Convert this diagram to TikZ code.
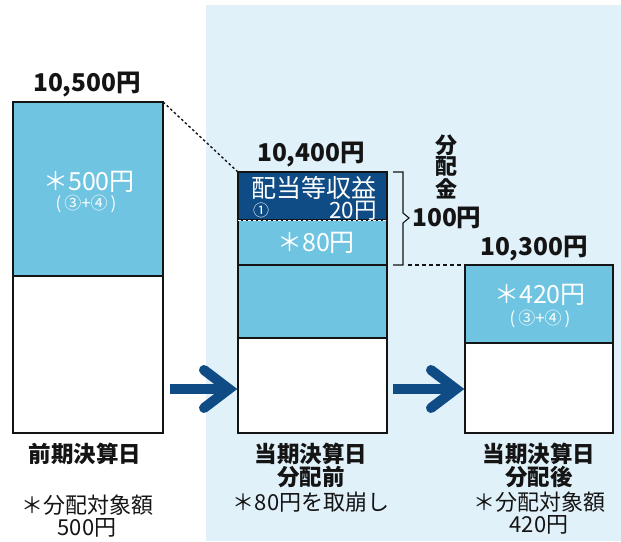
\documentclass[tikz,border=0pt]{standalone}
\usepackage{fontspec}
\usetikzlibrary{calc}
\setmainfont{Noto Sans CJK JP}
\definecolor{bgblue}{HTML}{E1F1F9}
\definecolor{barblue}{HTML}{6EC4E1}
\definecolor{navy}{HTML}{0F4B84}
\definecolor{ink}{HTML}{141414}
\tikzset{
  bar/.style={draw=ink, line width=1.4pt, inner sep=0pt, outer sep=0pt, anchor=north west},
  amt/.style={font=\bfseries\fontsize{24.5}{26}\selectfont, text=ink, inner sep=0pt},
  inw/.style={font=\fontsize{25}{27}\selectfont, text=white, inner sep=0pt},
  insm/.style={font=\fontsize{17}{19}\selectfont, text=white, inner sep=0pt},
  lab/.style={font=\bfseries\fontsize{22.5}{24}\selectfont, text=ink, inner sep=0pt},
  vlab/.style={font=\bfseries\fontsize{22}{24}\selectfont, text=ink, inner sep=0pt},
  note/.style={font=\fontsize{22}{24}\selectfont, text=ink, inner sep=0pt},
  flow/.style={navy, line width=10pt},
}
\begin{document}
\begin{tikzpicture}[x=1pt,y=-1pt]
\useasboundingbox (0,0) rectangle (621,541);
\fill[bgblue] (206,5) rectangle (621,541);
% left bar
\node[bar, fill=barblue, minimum width=150pt, minimum height=174pt] (L1) at (13,102) {};
\node[bar, fill=white, minimum width=150pt, minimum height=157pt] (L2) at (13,276) {};
% middle bar
\node[bar, fill=navy, minimum width=149pt, minimum height=48pt] (M1) at (238,172) {};
\node[bar, fill=barblue, minimum width=149pt, minimum height=45pt] (M2) at (238,220) {};
\node[bar, fill=barblue, minimum width=149pt, minimum height=73pt] (M3) at (238,265) {};
\node[bar, fill=white, minimum width=149pt, minimum height=95pt] (M4) at (238,338) {};
\draw[white, line width=0.9pt, dash pattern=on 3pt off 2pt] (M2.north west) -- (M2.north east);
% right bar
\node[bar, fill=barblue, minimum width=148pt, minimum height=78pt] (R1) at (465,265) {};
\node[bar, fill=white, minimum width=148pt, minimum height=90pt] (R2) at (465,343) {};
% dotted connector
\draw[ink, line width=1.4pt, dash pattern=on 2.5pt off 2.5pt] (L1.north east) -- (M1.north west);
% brace
\coordinate (b1) at (393,172);
\coordinate (b2) at (393,265);
\coordinate (bt) at (409,218);
\draw[ink, line width=1.1pt, line join=miter] (b1) -- (403,172) -- (403,213) -- (bt) -- (403,223) -- (403,265) -- (b2);
\coordinate (d0) at (408,265);
\draw[ink, line width=1.4pt, dash pattern=on 4pt off 3pt] (d0) -- (R1.north west);
% arrows
\coordinate (a1s) at (170,389);
\coordinate (a1e) at (229,389);
\coordinate (a2s) at (393,389);
\coordinate (a2e) at (456,389);
\draw[flow] (a1s) -- ($(a1e)+(-4,0)$);
\draw[flow, line cap=round, line join=miter] ($(a1e)+(-25,-19)$) -- (a1e) -- ($(a1e)+(-25,19)$);
\draw[flow] (a2s) -- ($(a2e)+(-4,0)$);
\draw[flow, line cap=round, line join=miter] ($(a2e)+(-25,-19)$) -- (a2e) -- ($(a2e)+(-25,19)$);
% texts left
\node[amt] (t1) at (87,85) {10,500円};
\node[inw] (t2) at (89,182) {＊500円};
\node[insm] (t3) at (86,204) {(\,③+④\,)};
% texts middle
\node[amt] (t4) at (311,155) {10,400円};
\node[text height=21pt, text depth=2pt, font=\fontsize{25}{27}\selectfont, text=white, inner sep=0pt] (t5) at (314,187.5) {配当等収益};
\node[text height=13.5pt, text depth=1.5pt, font=\fontsize{16}{18}\selectfont, text=white, inner sep=0pt] (t6) at (261,210) {①};
\node[text height=19pt, text depth=1.5pt, font=\fontsize{22.5}{24}\selectfont, text=white, inner sep=0pt, anchor=east] (t7) at (377,209.8) {20円};
\node[inw] (t8) at (316,243) {＊80円};
% distribution
\node[vlab] (t9) at (446,145) {分};
\node[vlab] (t10) at (446,166) {配};
\node[vlab] (t11) at (446,189) {金};
\node[amt, anchor=west] (t12) at (412,218) {100円};
% right
\node[amt] (t13) at (534,249) {10,300円};
\node[inw] (t14) at (540,295) {＊420円};
\node[insm] (t15) at (540,319) {(\,③+④\,)};
% bottom labels
\node[lab] (b11) at (85,454) {前期決算日};
\node[note] (b12) at (87,505) {＊分配対象額};
\node[note] (b13) at (87,528) {500円};
\node[lab] (b21) at (311,454) {当期決算日};
\node[lab] (b22) at (311,477) {分配前};
\node[note] (b23) at (311,502) {＊80円を取崩し};
\node[lab] (b31) at (539,454) {当期決算日};
\node[lab] (b32) at (539,477) {分配後};
\node[note] (b33) at (539,502) {＊分配対象額};
\node[note] (b34) at (539,525) {420円};
\end{tikzpicture}
\end{document}
